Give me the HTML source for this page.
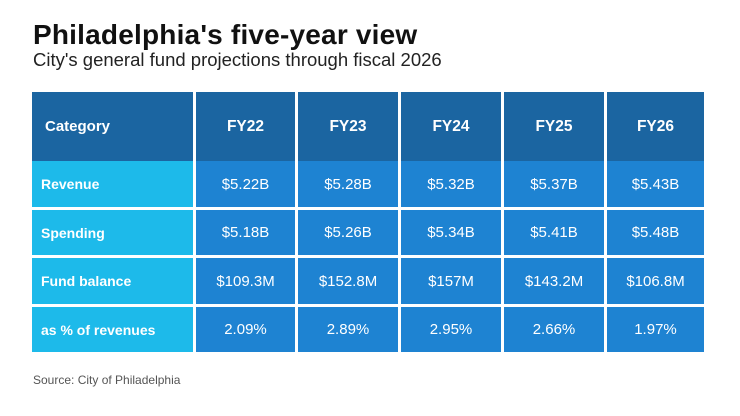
<!DOCTYPE html>
<html><head><meta charset="utf-8">
<style>
html,body{margin:0;padding:0;background:#fff;}
body{width:740px;height:416px;position:relative;overflow:hidden;font-family:"Liberation Sans",Arial,sans-serif;}
.t{position:absolute;left:33px;top:18px;font-size:28px;font-weight:bold;color:#111;letter-spacing:0.2px;white-space:nowrap;line-height:34px;}
.s{position:absolute;left:33px;top:48px;font-size:18.5px;color:#222;white-space:nowrap;line-height:24px;}
.src{position:absolute;left:33px;top:373px;font-size:12px;color:#555;white-space:nowrap;line-height:14px;}
.c{position:absolute;display:flex;align-items:center;justify-content:center;color:#fff;font-size:15px;box-sizing:border-box;}
.h{background:#1b65a1;font-weight:bold;font-size:15.5px;}
.l{background:#1dbaea;font-weight:bold;font-size:14px;justify-content:flex-start;padding-left:9px;}
.hl{justify-content:flex-start;padding-left:13px;font-size:15px;}
.d{background:#1e83d2;}
</style></head><body>
<div class="t">Philadelphia's five-year view</div>
<div class="s">City's general fund projections through fiscal 2026</div>

<div class="c h hl" style="left:32px;top:92px;width:161px;height:69px;">Category</div>
<div class="c h" style="left:196px;top:92px;width:99px;height:69px;">FY22</div>
<div class="c h" style="left:298px;top:92px;width:100px;height:69px;">FY23</div>
<div class="c h" style="left:401px;top:92px;width:100px;height:69px;">FY24</div>
<div class="c h" style="left:504px;top:92px;width:100px;height:69px;">FY25</div>
<div class="c h" style="left:607px;top:92px;width:97px;height:69px;">FY26</div>

<div class="c l" style="left:32px;top:161px;width:161px;height:46px;">Revenue</div>
<div class="c d" style="left:196px;top:161px;width:99px;height:46px;">$5.22B</div>
<div class="c d" style="left:298px;top:161px;width:100px;height:46px;">$5.28B</div>
<div class="c d" style="left:401px;top:161px;width:100px;height:46px;">$5.32B</div>
<div class="c d" style="left:504px;top:161px;width:100px;height:46px;">$5.37B</div>
<div class="c d" style="left:607px;top:161px;width:97px;height:46px;">$5.43B</div>

<div class="c l" style="left:32px;top:210px;width:161px;height:45px;">Spending</div>
<div class="c d" style="left:196px;top:210px;width:99px;height:45px;">$5.18B</div>
<div class="c d" style="left:298px;top:210px;width:100px;height:45px;">$5.26B</div>
<div class="c d" style="left:401px;top:210px;width:100px;height:45px;">$5.34B</div>
<div class="c d" style="left:504px;top:210px;width:100px;height:45px;">$5.41B</div>
<div class="c d" style="left:607px;top:210px;width:97px;height:45px;">$5.48B</div>

<div class="c l" style="left:32px;top:258px;width:161px;height:46px;">Fund balance</div>
<div class="c d" style="left:196px;top:258px;width:99px;height:46px;">$109.3M</div>
<div class="c d" style="left:298px;top:258px;width:100px;height:46px;">$152.8M</div>
<div class="c d" style="left:401px;top:258px;width:100px;height:46px;">$157M</div>
<div class="c d" style="left:504px;top:258px;width:100px;height:46px;">$143.2M</div>
<div class="c d" style="left:607px;top:258px;width:97px;height:46px;">$106.8M</div>

<div class="c l" style="left:32px;top:307px;width:161px;height:45px;">as % of revenues</div>
<div class="c d" style="left:196px;top:307px;width:99px;height:45px;">2.09%</div>
<div class="c d" style="left:298px;top:307px;width:100px;height:45px;">2.89%</div>
<div class="c d" style="left:401px;top:307px;width:100px;height:45px;">2.95%</div>
<div class="c d" style="left:504px;top:307px;width:100px;height:45px;">2.66%</div>
<div class="c d" style="left:607px;top:307px;width:97px;height:45px;">1.97%</div>

<div class="src">Source: City of Philadelphia</div>
</body></html>
